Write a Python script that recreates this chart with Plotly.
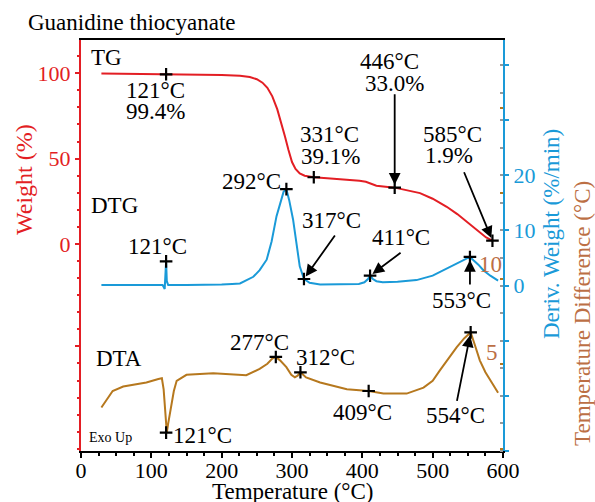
import plotly.graph_objects as go

# ---------------- data ----------------
tg_temp = [29, 60, 100, 121, 150, 200, 226, 240, 250, 258, 265, 272, 279, 285, 290, 295, 300, 305, 311, 318, 331,
           350, 380, 396, 405, 411, 420, 446, 482, 500, 520, 535, 548, 558, 567, 576, 585]
tg_weight = [99.9, 99.8, 99.6, 99.4, 99.3, 99.0, 98.6, 97.8, 96.5, 94.5, 91.5, 86.5, 79, 71, 63, 55, 48, 44, 41.3, 40.0, 39.1,
             38.5, 37.6, 37.0, 36.4, 35.6, 34.1, 33.0, 29.8, 26.5, 21.8, 17.5, 13.0, 9.5, 6.4, 3.8, 1.9]

dtg_temp = [29, 60, 100, 116, 119, 120, 121, 122, 124, 150, 180, 200, 215, 226, 245, 254, 264, 271, 278, 283, 288, 292,
            296, 301.5, 306, 311, 317, 325, 340, 370, 395, 403, 408, 411, 415, 420, 429, 450, 477, 500, 515, 530,
            539, 548, 553, 558, 565, 572, 582, 593]
dtg_rate = [0.1, 0.1, 0.1, 0.1, -0.6, 1.5, 4.4, 0.8, 0.1, 0.1, 0.1, 0.2, 0.3, 0.4, 1.6, 2.8, 4.7, 8.0, 12.6, 15.0, 17.0, 17.5,
            15.5, 12.0, 8.0, 3.5, 1.2, 0.5, 0.2, 0.2, 0.3, 0.6, 1.2, 1.8, 1.2, 0.8, 0.6, 0.7, 1.0, 1.8, 2.8, 3.7,
            4.4, 4.9, 5.2, 4.6, 3.8, 2.8, 1.8, 0.9]

dta_temp = [29, 45, 60, 93, 110, 115, 117.5, 120, 122, 124, 128, 132, 136, 150, 188, 235, 254, 265, 272, 277, 283, 292,
            299, 304, 308, 312, 320, 340, 378, 409, 430, 463, 487, 500, 510, 522, 534, 545, 554, 560, 567, 575, 582, 593]
dta_diff = [2.43, 3.4, 3.66, 3.9, 4.1, 4.15, 3.5, 1.8, 0.96, 1.5, 2.4, 3.4, 4.0, 4.35, 4.45, 4.33, 4.7, 5.0, 5.3, 5.4, 5.2, 4.8,
            4.35, 4.2, 4.3, 4.5, 4.2, 3.9, 3.5, 3.4, 3.25, 3.25, 3.6, 4.0, 4.6, 5.3, 5.96, 6.5, 6.84, 6.1, 5.2, 4.5, 4.0, 3.3]

# marked points
tg_mark_t = [121, 331, 446, 585]
tg_mark_w = [99.4, 39.1, 33.0, 1.9]
dtg_mark_t = [121, 292, 317, 411, 553]
dtg_mark_v = [4.4, 17.5, 1.2, 1.8, 5.2]
dta_mark_t = [121, 277, 312, 409, 554]
dta_mark_v = [0.96, 5.4, 4.5, 3.4, 6.84]

x_ticks = [0, 100, 200, 300, 400, 500, 600]
w_ticks = [-60, 0, 50, 100]
w_ticktext = ["", "0", "50", "100"]
d_ticks = [-30, -20, -10, 0, 10, 20, 30, 40]
d_ticktext = ["", "", "", "0", "10", "20", "", ""]
t_ticks = [0, 5, 10, 15, 20]

# ---------------- styles ----------------
RED = "#E31E24"
BLUE = "#1A9AD8"
BROWN = "#B6781E"
BROWN_TXT = "#BC6F45"
FONT = "Liberation Serif, Times New Roman, Times, DejaVu Serif, serif"
FS = 23

fig = go.Figure()
fig.add_trace(go.Scatter(x=tg_temp, y=tg_weight, mode="lines", line=dict(color=RED, width=2), yaxis="y"))
fig.add_trace(go.Scatter(x=dtg_temp, y=dtg_rate, mode="lines", line=dict(color=BLUE, width=2), yaxis="y2"))
fig.add_trace(go.Scatter(x=dta_temp, y=dta_diff, mode="lines", line=dict(color=BROWN, width=2), yaxis="y3"))

mk = dict(symbol="cross-thin", size=9, line=dict(color="black", width=2.2), color="black")
fig.add_trace(go.Scatter(x=tg_mark_t, y=tg_mark_w, mode="markers", marker=mk, yaxis="y"))
fig.add_trace(go.Scatter(x=dtg_mark_t, y=dtg_mark_v, mode="markers", marker=mk, yaxis="y2"))
fig.add_trace(go.Scatter(x=dta_mark_t, y=dta_mark_v, mode="markers", marker=mk, yaxis="y3"))

ann = []


def label(text, x, y, yref, dx, dy, size=FS, color="black"):
    ann.append(dict(text=text, x=x, y=y, xref="x", yref=yref, xshift=dx, yshift=-dy,
                    showarrow=False, font=dict(family=FONT, size=size, color=color),
                    xanchor="center", yanchor="middle"))


def arrow(x, y, yref, ax, ay):
    ann.append(dict(text="", x=x, y=y, xref="x", yref=yref, ax=ax, ay=ay, axref="pixel", ayref="pixel",
                    showarrow=True, arrowhead=2, arrowsize=1.3, arrowwidth=1.8, arrowcolor="black", standoff=3))


# TG labels
label("121°C", tg_mark_t[0], tg_mark_w[0], "y", -11, 16)
label("99.4%", tg_mark_t[0], tg_mark_w[0], "y", -11, 37)
label("331°C", tg_mark_t[1], tg_mark_w[1], "y", 16, -43)
label("39.1%", tg_mark_t[1], tg_mark_w[1], "y", 17, -21)
label("446°C", tg_mark_t[2], tg_mark_w[2], "y", -5, -126)
label("33.0%", tg_mark_t[2], tg_mark_w[2], "y", 0, -104)
arrow(tg_mark_t[2], tg_mark_w[2], "y", 0, -95)
label("585°C", tg_mark_t[3], tg_mark_w[3], "y", -40, -106)
label("1.9%", tg_mark_t[3], tg_mark_w[3], "y", -43, -85)
arrow(tg_mark_t[3], tg_mark_w[3], "y", -29, -70)

# DTG labels
label("121°C", dtg_mark_t[0], dtg_mark_v[0], "y2", -9, -15)
label("292°C", dtg_mark_t[1], dtg_mark_v[1], "y2", -35, -8)
label("317°C", dtg_mark_t[2], dtg_mark_v[2], "y2", 28, -58)
arrow(dtg_mark_t[2], dtg_mark_v[2], "y2", 32, -45)
label("411°C", dtg_mark_t[3], dtg_mark_v[3], "y2", 31, -38)
arrow(dtg_mark_t[3], dtg_mark_v[3], "y2", 32, -24)
label("553°C", dtg_mark_t[4], dtg_mark_v[4], "y2", -8, 44)
arrow(dtg_mark_t[4], dtg_mark_v[4], "y2", 0, 29)

# DTA labels
label("121°C", dta_mark_t[0], dta_mark_v[0], "y3", 36, 3)
label("277°C", dta_mark_t[1], dta_mark_v[1], "y3", -16, -14)
label("312°C", dta_mark_t[2], dta_mark_v[2], "y3", 25, -15)
label("409°C", dta_mark_t[3], dta_mark_v[3], "y3", -6, 21)
label("554°C", dta_mark_t[4], dta_mark_v[4], "y3", -15, 83)
arrow(dta_mark_t[4], dta_mark_v[4], "y3", -14, 70)

# paper-positioned texts (pixel -> paper helpers)
L, R, T, B = 81, 92, 40, 51
W, H = 595, 502
pw, ph = W - L - R, H - T - B


def px(xp):
    return (xp - L) / pw


def py(yp):
    return (H - B - yp) / ph


def ptext(text, xp, yp, size=FS, color="black", angle=0, xanchor="center"):
    ann.append(dict(text=text, x=px(xp), y=py(yp), xref="paper", yref="paper", showarrow=False,
                    textangle=angle, xanchor=xanchor, yanchor="middle",
                    font=dict(family=FONT, size=size, color=color)))


ptext("Guanidine thiocyanate", 26, 23, size=23, xanchor="left")
ptext("TG", 106, 58)
ptext("DTG", 114, 206)
ptext("DTA", 119, 358)
ptext("Exo Up", 110, 437, size=14)
ptext("Weight (%)", 24, 180, color=RED, angle=-90, size=24)
ptext("Deriv. Weight (%/min)", 551, 234, color=BLUE, angle=-90)
ptext("Temperature Difference (°C)", 582, 314, color=BROWN_TXT, angle=-90)
ptext("Temperature (°C)", 292, 491)
ptext("10", 490, 264, color=BROWN_TXT)
ptext("5", 492, 352, color=BROWN_TXT)

fig.update_layout(
    width=W, height=H,
    margin=dict(l=L, r=R, t=T, b=B, pad=0),
    paper_bgcolor="white", plot_bgcolor="white",
    showlegend=False,
    font=dict(family=FONT, size=22, color="black"),
    annotations=ann,
    xaxis=dict(range=[0, 600], tickvals=x_ticks, ticks="outside", ticklen=5, tickwidth=1.5, tickcolor="black",
               minor=dict(tickmode="linear", tick0=0, dtick=25, ticks="outside", ticklen=3, tickcolor="black"),
               showline=True, linecolor="black", linewidth=2, mirror=True, showgrid=False, zeroline=False,
               ticklabelstandoff=-6,
               tickfont=dict(family=FONT, size=22, color="black")),
    yaxis=dict(range=[-121.3, 119.5], tickvals=w_ticks, ticktext=w_ticktext, ticks="outside", ticklen=4,
               tickcolor=RED, tickwidth=1.5,
               minor=dict(tickmode="linear", tick0=0, dtick=10, ticks="outside", ticklen=2, tickcolor=RED),
               showline=True, linecolor=RED, linewidth=2, showgrid=False, zeroline=False,
               tickfont=dict(family=FONT, size=22, color=RED)),
    yaxis2=dict(range=[-30.0, 44.55], overlaying="y", side="right", anchor="x", tickvals=d_ticks, ticktext=d_ticktext,
                ticks="outside", ticklen=4, tickcolor=BLUE, tickwidth=1.5,
                minor=dict(tickmode="linear", tick0=0, dtick=5, ticks="inside", ticklen=3, tickcolor="#999999"),
                showline=True, linecolor=BLUE, linewidth=2, showgrid=False, zeroline=False,
                tickfont=dict(family=FONT, size=22, color=BLUE)),
    yaxis3=dict(range=[-0.12, 24.0], overlaying="y", side="right", anchor="x", tickvals=t_ticks,
                ticktext=["" for _ in t_ticks], ticks="inside", ticklen=3, tickcolor=BROWN, tickwidth=1.5,
                showline=False, showgrid=False, zeroline=False),
)

fig.write_html("out.html")
